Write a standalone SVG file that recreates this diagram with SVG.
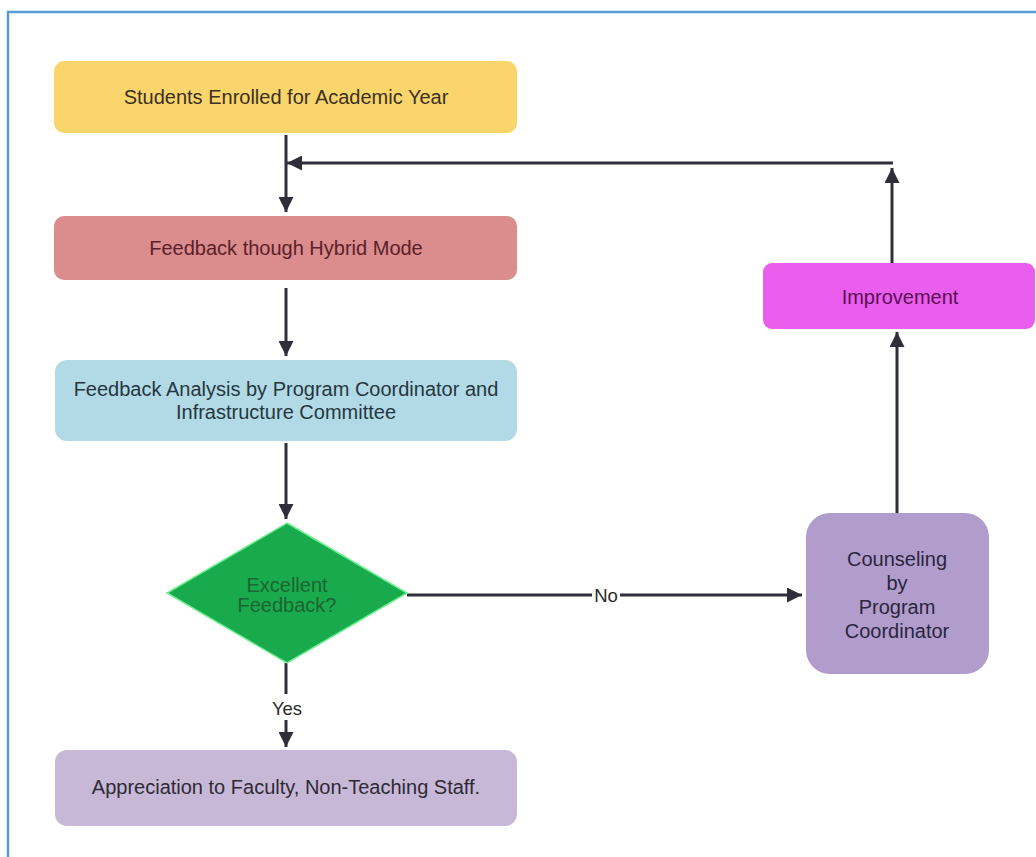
<svg xmlns="http://www.w3.org/2000/svg" width="1036" height="857" viewBox="0 0 1036 857">
  <style>
    text { font-family: "Liberation Sans", Arial, sans-serif; font-size: 20px; text-anchor: middle; }
    .edge { stroke: #302e3a; stroke-width: 3; fill: none; }
    .lbl { font-size: 18.5px; fill: #2a2a2a; }
  </style>
  <defs>
    <marker id="arr" viewBox="0 0 10 10" refX="10" refY="5" markerUnits="userSpaceOnUse" markerWidth="18" markerHeight="15" orient="auto">
      <path d="M0,0 L10,5 L0,10 Z" fill="#302e3a"/>
    </marker>
  </defs>
  <rect x="0" y="0" width="1036" height="857" fill="#ffffff"/>
  <path d="M8,857 V12 H1036" fill="none" stroke="#5b9bd5" stroke-width="2.5"/>

  <g id="connectors">
    <line class="edge" x1="286" y1="135" x2="286" y2="212" marker-end="url(#arr)"/>
    <line class="edge" x1="893" y1="163" x2="287" y2="163" marker-end="url(#arr)"/>
    <line class="edge" x1="892" y1="263" x2="892" y2="168" marker-end="url(#arr)"/>
    <line class="edge" x1="897" y1="513" x2="897" y2="332" marker-end="url(#arr)"/>
    <line class="edge" x1="286" y1="288" x2="286" y2="356" marker-end="url(#arr)"/>
    <line class="edge" x1="286" y1="443" x2="286" y2="519" marker-end="url(#arr)"/>
    <line class="edge" x1="286" y1="663" x2="286" y2="747" marker-end="url(#arr)"/>
    <line class="edge" x1="407" y1="595" x2="802" y2="595" marker-end="url(#arr)"/>
    <rect x="268" y="694" width="36" height="26" fill="#ffffff"/>
    <text class="lbl" x="287" y="715">Yes</text>
    <rect x="592" y="585" width="28" height="22" fill="#ffffff"/>
    <text class="lbl" x="606" y="602">No</text>
  </g>

  <g id="n-students">
    <rect x="54" y="61" width="463" height="72" rx="10" fill="#fad56c"/>
    <text x="286" y="104" fill="#3a3122">Students Enrolled for Academic Year</text>
  </g>
  <g id="n-feedback">
    <rect x="54" y="216" width="463" height="64" rx="10" fill="#db8c8c"/>
    <text x="286" y="255" fill="#5a1f2a">Feedback though Hybrid Mode</text>
  </g>
  <g id="n-analysis">
    <rect x="55" y="360" width="462" height="81" rx="12" fill="#b2dae6"/>
    <text x="286" y="396" fill="#263640">Feedback Analysis by Program Coordinator and</text>
    <text x="286" y="419" fill="#263640">Infrastructure Committee</text>
  </g>
  <g id="n-decision">
    <polygon points="287,523 407,593 287,663 167,593" fill="#19aa4e" stroke="#6ef08f" stroke-width="1.5"/>
    <text x="287" y="592" fill="#1b6530">Excellent</text>
    <text x="287" y="612" fill="#1b6530">Feedback?</text>
  </g>
  <g id="n-appreciation">
    <rect x="55" y="750" width="462" height="76" rx="12" fill="#c8b8d8"/>
    <text x="286" y="794" fill="#2e2a35">Appreciation to Faculty, Non-Teaching Staff.</text>
  </g>
  <g id="n-improvement">
    <rect x="763" y="263" width="272" height="66" rx="9" fill="#ea5eee"/>
    <text x="900" y="304" fill="#5a0d55">Improvement</text>
  </g>
  <g id="n-counseling">
    <rect x="806" y="513" width="183" height="161" rx="24" fill="#b19dcb"/>
    <text x="897" y="566" fill="#2a2540">Counseling</text>
    <text x="897" y="590" fill="#2a2540">by</text>
    <text x="897" y="614" fill="#2a2540">Program</text>
    <text x="897" y="638" fill="#2a2540">Coordinator</text>
  </g>
</svg>
